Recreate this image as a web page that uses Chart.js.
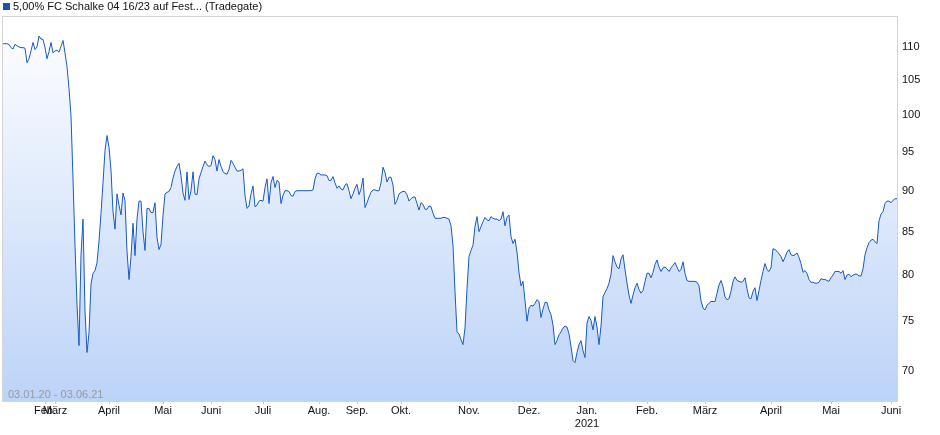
<!DOCTYPE html>
<html lang="de">
  <head>
    <meta charset="utf-8" />
    <title>FC Schalke 04 Anleihe</title>
    <script src="https://cdn.jsdelivr.net/npm/chart.js"></script>
    <style>
      html, body { margin: 0; padding: 0; background: #fff; }
      canvas { display: block; }
    </style>
  </head>
  <body>
    <canvas id="myChart" width="940" height="435"></canvas>
    <script>
      const seriesName = "5,00% FC Schalke 04 16/23 auf Fest... (Tradegate)";
      const rangeText = "03.01.20 - 03.06.21";

      // price per trading slot
      const values = [
        110.5,110.5,110.5,110.4,109.9,109.7,110.4,110.2,110.0,109.9,
        109.9,109.8,107.6,108.2,109.4,110.7,109.6,110.0,111.7,111.2,
        111.2,109.9,108.2,109.3,110.7,109.1,109.4,109.5,109.2,110.1,
        111.0,109.1,107.0,103.8,99.9,91.5,83.4,76.8,72.5,82.3,
        86.5,76.1,71.8,73.8,79.0,80.2,80.5,81.4,83.9,87.2,
        91.0,95.2,97.2,95.6,92.6,87.4,85.3,89.6,88.2,87.0,
        89.7,88.8,82.7,79.5,82.1,86.0,82.2,86.5,88.7,88.7,
        85.0,82.8,87.8,87.8,87.3,87.3,88.5,84.3,82.9,83.5,
        86.9,89.6,89.8,89.9,90.4,91.6,92.5,93.1,93.5,91.9,
        89.7,88.8,92.4,88.9,90.0,92.4,89.6,89.5,91.5,92.3,
        93.1,93.8,93.3,93.1,93.2,94.5,94.0,92.5,94.0,93.1,
        92.4,92.2,92.1,92.7,93.9,93.5,93.0,92.5,92.5,92.6,
        92.8,89.4,87.8,88.1,89.6,90.6,88.0,88.2,88.7,88.8,
        88.7,90.4,91.5,88.4,91.0,91.8,90.4,91.3,91.1,88.4,
        89.4,90.0,90.0,89.9,89.4,89.3,89.9,90.0,90.0,90.0,
        90.0,90.0,90.0,90.0,90.0,90.1,91.5,92.2,92.2,92.0,
        92.0,92.0,91.9,91.3,91.3,91.8,91.0,90.3,90.6,90.2,
        90.1,90.7,90.9,90.0,89.0,89.6,90.3,90.8,89.5,90.2,
        91.6,87.9,88.5,89.2,89.8,90.1,90.1,90.0,90.0,91.0,
        93.0,92.3,91.1,91.7,91.7,90.7,88.3,88.8,89.6,89.8,
        89.9,89.9,89.5,88.7,89.0,89.2,89.2,88.4,87.6,88.5,
        88.3,87.7,87.7,88.1,88.0,87.2,86.6,86.6,86.6,86.6,
        86.7,86.7,86.6,86.5,85.7,83.4,78.2,73.9,73.7,73.1,
        72.6,74.3,78.5,82.1,82.8,83.4,85.6,86.8,85.0,85.6,
        86.2,86.7,86.4,86.3,86.8,86.6,86.5,86.5,86.3,86.5,
        87.4,85.7,86.7,87.0,84.4,83.6,84.1,82.6,80.3,78.8,
        79.3,77.2,75.0,76.4,76.7,76.6,76.9,77.3,77.1,75.4,
        76.3,77.0,77.0,76.2,75.7,74.6,72.6,73.0,73.6,73.9,
        74.3,74.5,74.4,73.7,72.4,71.0,70.8,71.8,72.6,73.0,
        72.0,71.3,74.8,75.5,75.1,74.1,75.5,74.4,72.6,74.5,
        77.6,78.1,78.5,79.1,80.1,82.2,81.5,80.9,80.7,81.8,
        82.3,80.6,79.1,77.8,76.9,77.8,78.6,79.1,78.4,78.0,
        78.3,79.3,80.2,80.2,79.7,80.3,81.2,81.7,80.9,80.4,
        80.8,80.9,80.7,80.4,80.8,81.1,81.4,80.9,80.4,80.6,
        81.5,80.2,79.4,79.3,79.3,79.3,79.3,79.2,78.8,77.2,
        76.4,76.2,76.7,76.9,77.1,77.1,77.1,78.0,78.9,79.4,
        78.7,77.6,77.3,77.4,78.2,79.3,79.8,79.4,79.3,79.2,
        79.3,79.7,78.5,77.5,77.4,78.2,78.6,77.2,78.3,79.4,
        80.4,81.3,80.6,80.4,80.8,83.0,82.9,82.7,82.4,82.1,
        81.5,82.0,82.6,82.9,82.3,82.2,82.3,82.5,82.0,81.3,
        80.3,80.5,80.2,79.5,79.2,79.2,79.1,79.1,79.2,79.6,
        79.5,79.5,79.4,79.3,79.7,80.0,80.4,80.4,80.4,80.2,
        80.5,79.5,80.0,80.1,79.8,80.0,80.1,80.1,79.9,79.9,
        80.7,82.3,83.1,83.7,84.0,84.1,83.8,83.6,86.3,87.1,
        87.4,88.4,88.7,88.7,88.5,88.8,89.0,89.0
      ];

      // month ticks (slot index) and their labels
      const monthTicks = [21, 26, 53, 80, 104, 130, 158, 177, 199, 233, 263, 292, 322, 351, 384, 414, 444];
      const monthLabels = ["Feb.", "März", "April", "Mai", "Juni", "Juli", "Aug.", "Sep.", "Okt.",
        "Nov.", "Dez.", ["Jan.", "2021"], "Feb.", "März", "April", "Mai", "Juni"];

      const yTicks = [70, 75, 80, 85, 90, 95, 100, 105, 110];
      const yMin = 67.1;
      const yMax = 114.7;

      Chart.defaults.font.family = "'Liberation Sans', Arial, sans-serif";
      Chart.defaults.font.size = 11;
      Chart.defaults.color = "#222";

      const frame = {
        id: "frame",
        afterDraw(chart) {
          const { ctx, chartArea: a } = chart;
          ctx.save();
          ctx.strokeStyle = "#d4d4d4";
          ctx.lineWidth = 1;
          ctx.strokeRect(a.left - 0.5, a.top - 0.5, a.right - a.left + 1, a.bottom - a.top + 1);

          // legend
          ctx.fillStyle = "#1e50b4";
          ctx.fillRect(3, 3, 7, 7);
          ctx.fillStyle = "#111";
          ctx.font = "11px 'Liberation Sans', Arial, sans-serif";
          ctx.textBaseline = "middle";
          ctx.fillText(seriesName, 13, 6.5);

          // date range
          ctx.fillStyle = "#999";
          ctx.fillText(rangeText, a.left + 5, a.bottom - 6);
          ctx.restore();
        },
      };

      const ctx = document.getElementById("myChart");

      new Chart(ctx, {
        type: "line",
        data: {
          datasets: [
            {
              label: seriesName,
              data: values.map((v, i) => ({ x: i, y: v })),
              borderColor: "#1759c9",
              borderWidth: 1,
              pointRadius: 0,
              tension: 0,
              fill: "start",
              backgroundColor: (c) => {
                const area = c.chart.chartArea;
                if (!area) return "#dbe7fb";
                const g = c.chart.ctx.createLinearGradient(0, area.top, 0, area.bottom);
                g.addColorStop(0, "#ffffff");
                g.addColorStop(1, "#bcd3f8");
                return g;
              },
            },
          ],
        },
        options: {
          responsive: false,
          animation: false,
          devicePixelRatio: 1,
          layout: { padding: { left: 3, right: 0, top: 17, bottom: 0 } },
          plugins: {
            legend: { display: false },
            tooltip: { enabled: false },
          },
          scales: {
            x: {
              type: "linear",
              min: 0,
              max: values.length - 1,
              afterBuildTicks: (s) => {
                s.ticks = monthTicks.map((v) => ({ value: v }));
              },
              afterFit: (s) => {
                s.height = 34;
              },
              ticks: {
                autoSkip: false,
                maxRotation: 0,
                padding: 1,
                color: "#111",
                font: { size: 11, lineHeight: 1.15 },
                callback: (v, i) => monthLabels[i],
              },
              grid: {
                display: true,
                drawOnChartArea: false,
                drawTicks: true,
                tickLength: 3,
                color: "#c8c8c8",
              },
              border: { display: true, color: "#d4d4d4" },
            },
            y: {
              type: "logarithmic",
              position: "right",
              min: yMin,
              max: yMax,
              afterBuildTicks: (s) => {
                s.ticks = yTicks.map((v) => ({ value: v }));
              },
              afterFit: (s) => {
                s.width = 43;
              },
              ticks: {
                padding: 5,
                color: "#111",
                font: { size: 11 },
                callback: (v) => String(v),
              },
              grid: { display: false, drawTicks: false },
              border: { display: true, color: "#d4d4d4" },
            },
          },
        },
        plugins: [frame],
      });
    </script>
  </body>
</html>
